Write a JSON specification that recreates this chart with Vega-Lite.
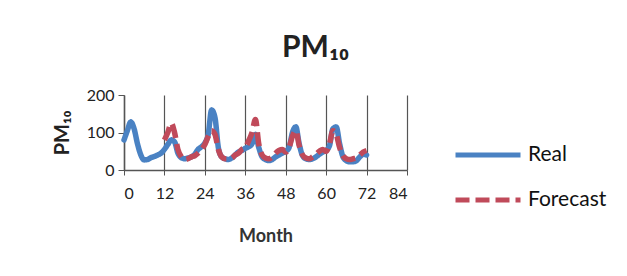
{
  "$schema": "https://vega.github.io/schema/vega-lite/v6.json",
  "autosize": {"type": "none"},
  "width": 283,
  "height": 75,
  "padding": {"left": 124, "top": 95, "right": 220, "bottom": 106},
  "background": "white",
  "title": {"text": "PM₁₀", "font": "Lato", "fontSize": 30, "fontWeight": "bold", "color": "#222", "anchor": "middle", "dx": 50, "offset": 24},
  "data": {"values": [
    {"month":0,"value":80,"series":"Real"},{"month":1,"value":105,"series":"Real"},{"month":2,"value":128,"series":"Real"},{"month":3,"value":110,"series":"Real"},{"month":4,"value":70,"series":"Real"},{"month":5,"value":40,"series":"Real"},{"month":6,"value":27,"series":"Real"},{"month":7,"value":28,"series":"Real"},{"month":8,"value":33,"series":"Real"},{"month":9,"value":36,"series":"Real"},{"month":10,"value":40,"series":"Real"},{"month":11,"value":45,"series":"Real"},{"month":12,"value":55,"series":"Real"},{"month":13,"value":68,"series":"Real"},{"month":14,"value":80,"series":"Real"},{"month":15,"value":75,"series":"Real"},{"month":16,"value":45,"series":"Real"},{"month":17,"value":33,"series":"Real"},{"month":18,"value":30,"series":"Real"},{"month":19,"value":32,"series":"Real"},{"month":20,"value":35,"series":"Real"},{"month":21,"value":42,"series":"Real"},{"month":22,"value":55,"series":"Real"},{"month":23,"value":62,"series":"Real"},{"month":24,"value":72,"series":"Real"},{"month":25,"value":95,"series":"Real"},{"month":26,"value":160,"series":"Real"},{"month":27,"value":140,"series":"Real"},{"month":28,"value":60,"series":"Real"},{"month":29,"value":35,"series":"Real"},{"month":30,"value":30,"series":"Real"},{"month":31,"value":28,"series":"Real"},{"month":32,"value":32,"series":"Real"},{"month":33,"value":40,"series":"Real"},{"month":34,"value":48,"series":"Real"},{"month":35,"value":52,"series":"Real"},{"month":36,"value":58,"series":"Real"},{"month":37,"value":62,"series":"Real"},{"month":38,"value":70,"series":"Real"},{"month":39,"value":95,"series":"Real"},{"month":40,"value":60,"series":"Real"},{"month":41,"value":35,"series":"Real"},{"month":42,"value":28,"series":"Real"},{"month":43,"value":25,"series":"Real"},{"month":44,"value":28,"series":"Real"},{"month":45,"value":35,"series":"Real"},{"month":46,"value":40,"series":"Real"},{"month":47,"value":45,"series":"Real"},{"month":48,"value":50,"series":"Real"},{"month":49,"value":60,"series":"Real"},{"month":50,"value":100,"series":"Real"},{"month":51,"value":115,"series":"Real"},{"month":52,"value":70,"series":"Real"},{"month":53,"value":38,"series":"Real"},{"month":54,"value":30,"series":"Real"},{"month":55,"value":28,"series":"Real"},{"month":56,"value":30,"series":"Real"},{"month":57,"value":35,"series":"Real"},{"month":58,"value":42,"series":"Real"},{"month":59,"value":48,"series":"Real"},{"month":60,"value":52,"series":"Real"},{"month":61,"value":65,"series":"Real"},{"month":62,"value":110,"series":"Real"},{"month":63,"value":115,"series":"Real"},{"month":64,"value":70,"series":"Real"},{"month":65,"value":35,"series":"Real"},{"month":66,"value":25,"series":"Real"},{"month":67,"value":22,"series":"Real"},{"month":68,"value":22,"series":"Real"},{"month":69,"value":25,"series":"Real"},{"month":70,"value":35,"series":"Real"},{"month":71,"value":42,"series":"Real"},{"month":72,"value":40,"series":"Real"},
    {"month":12,"value":80,"series":"Forecast"},{"month":13,"value":100,"series":"Forecast"},{"month":14,"value":125,"series":"Forecast"},{"month":15,"value":100,"series":"Forecast"},{"month":16,"value":55,"series":"Forecast"},{"month":17,"value":35,"series":"Forecast"},{"month":18,"value":28,"series":"Forecast"},{"month":19,"value":30,"series":"Forecast"},{"month":20,"value":35,"series":"Forecast"},{"month":21,"value":38,"series":"Forecast"},{"month":22,"value":45,"series":"Forecast"},{"month":23,"value":55,"series":"Forecast"},{"month":24,"value":68,"series":"Forecast"},{"month":25,"value":90,"series":"Forecast"},{"month":26,"value":105,"series":"Forecast"},{"month":27,"value":95,"series":"Forecast"},{"month":28,"value":55,"series":"Forecast"},{"month":29,"value":35,"series":"Forecast"},{"month":30,"value":30,"series":"Forecast"},{"month":31,"value":30,"series":"Forecast"},{"month":32,"value":32,"series":"Forecast"},{"month":33,"value":40,"series":"Forecast"},{"month":34,"value":45,"series":"Forecast"},{"month":35,"value":55,"series":"Forecast"},{"month":36,"value":60,"series":"Forecast"},{"month":37,"value":78,"series":"Forecast"},{"month":38,"value":100,"series":"Forecast"},{"month":39,"value":135,"series":"Forecast"},{"month":40,"value":70,"series":"Forecast"},{"month":41,"value":40,"series":"Forecast"},{"month":42,"value":32,"series":"Forecast"},{"month":43,"value":30,"series":"Forecast"},{"month":44,"value":35,"series":"Forecast"},{"month":45,"value":45,"series":"Forecast"},{"month":46,"value":52,"series":"Forecast"},{"month":47,"value":55,"series":"Forecast"},{"month":48,"value":48,"series":"Forecast"},{"month":49,"value":60,"series":"Forecast"},{"month":50,"value":90,"series":"Forecast"},{"month":51,"value":105,"series":"Forecast"},{"month":52,"value":65,"series":"Forecast"},{"month":53,"value":40,"series":"Forecast"},{"month":54,"value":32,"series":"Forecast"},{"month":55,"value":30,"series":"Forecast"},{"month":56,"value":35,"series":"Forecast"},{"month":57,"value":42,"series":"Forecast"},{"month":58,"value":50,"series":"Forecast"},{"month":59,"value":55,"series":"Forecast"},{"month":60,"value":50,"series":"Forecast"},{"month":61,"value":70,"series":"Forecast"},{"month":62,"value":105,"series":"Forecast"},{"month":63,"value":95,"series":"Forecast"},{"month":64,"value":60,"series":"Forecast"},{"month":65,"value":38,"series":"Forecast"},{"month":66,"value":30,"series":"Forecast"},{"month":67,"value":28,"series":"Forecast"},{"month":68,"value":30,"series":"Forecast"},{"month":69,"value":32,"series":"Forecast"},{"month":70,"value":40,"series":"Forecast"},{"month":71,"value":48,"series":"Forecast"},{"month":72,"value":52,"series":"Forecast"}
  ]},
  "encoding": {
    "x": {"field": "month", "type": "quantitative", "title": "Month",
      "scale": {"domain": [0, 84], "nice": false, "zero": false},
      "axis": {"values": [0,12,24,36,48,60,72,84], "grid": true, "gridColor": "#555", "gridWidth": 1.2, "gridOpacity": 1,
        "domainColor": "#555", "domainWidth": 1.5, "tickColor": "#555", "tickSize": 5,
        "labelFont": "Lato", "labelFontSize": 16, "labelColor": "#222", "labelPadding": 10,
        "titleFont": "Lato", "titleFontSize": 18, "titleFontWeight": "bold", "titleColor": "#333", "titlePadding": 26}},
    "y": {"field": "value", "type": "quantitative", "title": "PM₁₀",
      "scale": {"domain": [0, 200], "nice": false},
      "axis": {"values": [0,100,200], "grid": false,
        "domainColor": "#555", "domainWidth": 1.5, "tickColor": "#555", "tickSize": 6,
        "labelFont": "Lato", "labelFontSize": 16, "labelColor": "#222", "labelPadding": 4,
        "titleFont": "Lato", "titleFontSize": 20, "titleFontWeight": "bold", "titleColor": "#222", "titlePadding": 14}},
    "color": {"field": "series", "type": "nominal",
      "scale": {"domain": ["Real", "Forecast"], "range": ["#4a82c3", "#c04a5a"]},
      "legend": {"title": null, "orient": "none", "legendX": 329, "legendY": 25, "symbolType": "stroke", "symbolSize": 4225,
        "symbolStrokeWidth": 5, "labelFont": "Lato", "labelFontSize": 21, "labelColor": "#111", "rowPadding": -21, "labelOffset": 5}},
    "strokeDash": {"field": "series", "type": "nominal",
      "scale": {"domain": ["Real", "Forecast"], "range": [[1, 0], [14, 6]]},
      "legend": {"title": null, "orient": "none", "legendX": 329, "legendY": 25, "symbolType": "stroke", "symbolSize": 4225,
        "symbolStrokeWidth": 5, "labelFont": "Lato", "labelFontSize": 21, "labelColor": "#111", "rowPadding": -21, "labelOffset": 5}}
  },
  "layer": [
    {"transform": [{"filter": "datum.series === 'Real'"}], "mark": {"type": "line", "strokeWidth": 5.5, "strokeCap": "round", "strokeJoin": "round", "interpolate": "monotone"}},
    {"transform": [{"filter": "datum.series === 'Forecast'"}], "mark": {"type": "line", "strokeWidth": 5.5, "strokeCap": "butt", "strokeJoin": "round", "interpolate": "monotone"}}
  ],
  "config": {"view": {"stroke": null}}
}
